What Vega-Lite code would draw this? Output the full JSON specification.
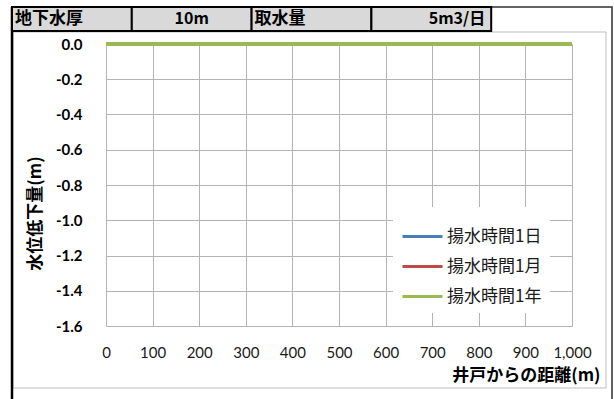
{
  "$schema": "https://vega.github.io/schema/vega-lite/v6.json",
  "width": 466,
  "height": 282,
  "autosize": {"type": "none"},
  "padding": {"left": 106, "top": 44, "right": 42, "bottom": 73},
  "background": "white",
  "config": {
    "view": {"stroke": null},
    "locale": {"number": {"decimal": ".", "thousands": ",", "grouping": [3], "currency": ["$", ""], "minus": "-"}}
  },
  "datasets": {
    "series": [
      {"series": "揚水時間1日", "dist": 0, "drawdown": 0},
      {"series": "揚水時間1日", "dist": 100, "drawdown": 0},
      {"series": "揚水時間1日", "dist": 200, "drawdown": 0},
      {"series": "揚水時間1日", "dist": 300, "drawdown": 0},
      {"series": "揚水時間1日", "dist": 400, "drawdown": 0},
      {"series": "揚水時間1日", "dist": 500, "drawdown": 0},
      {"series": "揚水時間1日", "dist": 600, "drawdown": 0},
      {"series": "揚水時間1日", "dist": 700, "drawdown": 0},
      {"series": "揚水時間1日", "dist": 800, "drawdown": 0},
      {"series": "揚水時間1日", "dist": 900, "drawdown": 0},
      {"series": "揚水時間1日", "dist": 1000, "drawdown": 0},
      {"series": "揚水時間1月", "dist": 0, "drawdown": 0},
      {"series": "揚水時間1月", "dist": 100, "drawdown": 0},
      {"series": "揚水時間1月", "dist": 200, "drawdown": 0},
      {"series": "揚水時間1月", "dist": 300, "drawdown": 0},
      {"series": "揚水時間1月", "dist": 400, "drawdown": 0},
      {"series": "揚水時間1月", "dist": 500, "drawdown": 0},
      {"series": "揚水時間1月", "dist": 600, "drawdown": 0},
      {"series": "揚水時間1月", "dist": 700, "drawdown": 0},
      {"series": "揚水時間1月", "dist": 800, "drawdown": 0},
      {"series": "揚水時間1月", "dist": 900, "drawdown": 0},
      {"series": "揚水時間1月", "dist": 1000, "drawdown": 0},
      {"series": "揚水時間1年", "dist": 0, "drawdown": 0},
      {"series": "揚水時間1年", "dist": 100, "drawdown": 0},
      {"series": "揚水時間1年", "dist": 200, "drawdown": 0},
      {"series": "揚水時間1年", "dist": 300, "drawdown": 0},
      {"series": "揚水時間1年", "dist": 400, "drawdown": 0},
      {"series": "揚水時間1年", "dist": 500, "drawdown": 0},
      {"series": "揚水時間1年", "dist": 600, "drawdown": 0},
      {"series": "揚水時間1年", "dist": 700, "drawdown": 0},
      {"series": "揚水時間1年", "dist": 800, "drawdown": 0},
      {"series": "揚水時間1年", "dist": 900, "drawdown": 0},
      {"series": "揚水時間1年", "dist": 1000, "drawdown": 0}
    ],
    "header": [
      {"col": 1, "text": "地下水厚"},
      {"col": 2, "text": "10m"},
      {"col": 3, "text": "取水量"},
      {"col": 4, "text": "5m3/日"}
    ]
  },
  "resolve": {"scale": {"x": "independent", "y": "independent", "color": "independent"}},
  "layer": [
    {
      "data": {"values": [{}]},
      "mark": {"type": "rect", "filled": false, "stroke": "#bfbfbf", "strokeWidth": 1},
      "encoding": {
        "x": {"datum": 0, "type": "quantitative", "scale": {"domain": [0, 1], "range": [-93, 500]}, "axis": null},
        "x2": {"datum": 1},
        "y": {"datum": 0, "type": "quantitative", "scale": {"domain": [0, 1], "range": [-12, 344]}, "axis": null},
        "y2": {"datum": 1}
      }
    },
    {
      "data": {"values": [{}]},
      "mark": {"type": "rect", "filled": false, "stroke": "#303030", "strokeWidth": 1.5},
      "encoding": {
        "x": {"datum": 0, "type": "quantitative", "scale": {"domain": [0, 1], "range": [-94, 506]}, "axis": null},
        "x2": {"datum": 1},
        "y": {"datum": 0, "type": "quantitative", "scale": {"domain": [0, 1], "range": [-37, 360]}, "axis": null},
        "y2": {"datum": 1}
      }
    },
    {
      "data": {"values": [{}]},
      "mark": {"type": "rule", "stroke": "#000000", "strokeWidth": 2.5},
      "encoding": {
        "x": {"datum": 0, "type": "quantitative", "scale": {"domain": [0, 1], "range": [-94, 506]}, "axis": null},
        "y": {"datum": 0, "type": "quantitative", "scale": {"domain": [0, 1], "range": [-37, 360]}, "axis": null},
        "y2": {"datum": 1}
      }
    },
    {
      "data": {"name": "header"},
      "mark": {"type": "rect", "fill": "#d9d9d9", "stroke": "#000000", "strokeWidth": 2},
      "encoding": {
        "x": {"field": "col", "type": "ordinal", "scale": {"type": "band", "domain": [1, 2, 3, 4, 5], "range": [-94, 505], "paddingInner": 0, "paddingOuter": 0}, "axis": null},
        "y": {"datum": 0, "type": "quantitative", "scale": {"domain": [0, 1], "range": [-37, -13]}, "axis": null},
        "y2": {"datum": 1}
      }
    },
    {
      "data": {"name": "header"},
      "transform": [{"filter": "datum.col == 1 || datum.col == 3"}],
      "mark": {"type": "text", "align": "left", "baseline": "middle", "dx": 3, "font": "Noto Sans CJK JP", "fontWeight": "bold", "fontSize": 17, "color": "#000000"},
      "encoding": {
        "x": {"field": "col", "type": "ordinal", "bandPosition": 0, "scale": {"type": "band", "domain": [1, 2, 3, 4, 5], "range": [-94, 505], "paddingInner": 0, "paddingOuter": 0}, "axis": null},
        "y": {"datum": 0.5, "type": "quantitative", "scale": {"domain": [0, 1], "range": [-37, -13]}, "axis": null},
        "text": {"field": "text"}
      }
    },
    {
      "data": {"name": "header"},
      "transform": [{"filter": "datum.col == 2"}],
      "mark": {"type": "text", "align": "center", "baseline": "middle", "font": "Noto Sans CJK JP", "fontWeight": "bold", "fontSize": 16, "color": "#000000"},
      "encoding": {
        "x": {"field": "col", "type": "ordinal", "bandPosition": 0.5, "scale": {"type": "band", "domain": [1, 2, 3, 4, 5], "range": [-94, 505], "paddingInner": 0, "paddingOuter": 0}, "axis": null},
        "y": {"datum": 0.5, "type": "quantitative", "scale": {"domain": [0, 1], "range": [-37, -13]}, "axis": null},
        "text": {"field": "text"}
      }
    },
    {
      "data": {"name": "header"},
      "transform": [{"filter": "datum.col == 4"}],
      "mark": {"type": "text", "align": "right", "baseline": "middle", "dx": -6, "font": "Noto Sans CJK JP", "fontWeight": "bold", "fontSize": 16, "color": "#000000"},
      "encoding": {
        "x": {"field": "col", "type": "ordinal", "bandPosition": 1, "scale": {"type": "band", "domain": [1, 2, 3, 4, 5], "range": [-94, 505], "paddingInner": 0, "paddingOuter": 0}, "axis": null},
        "y": {"datum": 0.5, "type": "quantitative", "scale": {"domain": [0, 1], "range": [-37, -13]}, "axis": null},
        "text": {"field": "text"}
      }
    },
    {
      "data": {"name": "series"},
      "mark": {"type": "line", "strokeWidth": 4},
      "encoding": {
        "x": {
          "field": "dist", "type": "quantitative",
          "scale": {"domain": [0, 1000], "nice": false},
          "axis": {
            "orient": "bottom",
            "values": [0, 100, 200, 300, 400, 500, 600, 700, 800, 900, 1000],
            "format": ",d",
            "labelOverlap": false, "labelFlush": false, "labelBound": false,
            "grid": true, "gridColor": "#b3b3b3", "gridWidth": 1,
            "domain": false, "ticks": false,
            "labelFont": "Lato", "labelFontSize": 15, "labelColor": "#1a1a1a", "labelPadding": 19,
            "title": "井戸からの距離(m)",
            "titleFont": "Noto Sans CJK JP", "titleFontWeight": "bold", "titleFontSize": 17, "titleColor": "#000000",
            "titleX": 494, "titleY": 49, "titleAlign": "right", "titleBaseline": "middle"
          }
        },
        "y": {
          "field": "drawdown", "type": "quantitative",
          "scale": {"domain": [-1.6, 0], "nice": false},
          "axis": {
            "orient": "left",
            "values": [-1.6, -1.4, -1.2, -1.0, -0.8, -0.6, -0.4, -0.2, 0],
            "format": ".1f",
            "labelOverlap": false, "labelFlush": false, "labelBound": false,
            "grid": true, "gridColor": "#b3b3b3", "gridWidth": 1,
            "domain": false, "ticks": false,
            "labelFont": "Lato", "labelFontSize": 15, "labelFontWeight": "bold", "labelColor": "#000000", "labelPadding": 24,
            "title": "水位低下量(m)",
            "titleFont": "Noto Sans CJK JP", "titleFontWeight": "bold", "titleFontSize": 17, "titleColor": "#000000",
            "titleX": -71, "titleY": 169, "titleAngle": -90, "titleAlign": "center", "titleBaseline": "middle"
          }
        },
        "color": {
          "field": "series", "type": "nominal",
          "scale": {"domain": ["揚水時間1日", "揚水時間1月", "揚水時間1年"], "range": ["#4a7ebb", "#be4b48", "#98b954"]},
          "legend": {
            "orient": "none", "legendX": 287, "legendY": 163,
            "title": null, "fillColor": "white", "padding": 8,
            "symbolType": "stroke", "symbolSize": 1600, "symbolStrokeWidth": 3,
            "labelFont": "Noto Sans CJK JP", "labelFontSize": 17, "labelColor": "#1a1a1a", "labelOffset": 3,
            "rowPadding": 0
          }
        }
      }
    }
  ]
}
